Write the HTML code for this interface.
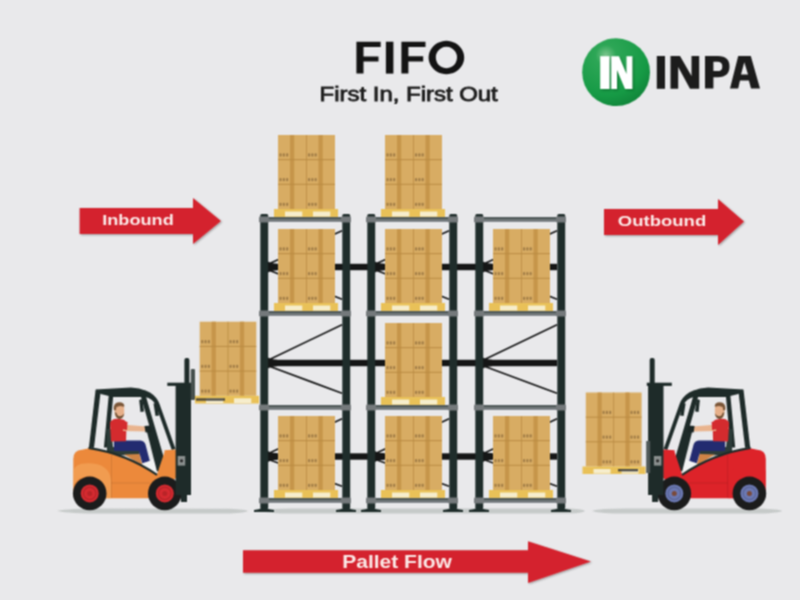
<!DOCTYPE html>
<html><head><meta charset="utf-8"><title>FIFO</title>
<style>html,body{margin:0;padding:0;background:#e9e9eb;width:800px;height:600px;overflow:hidden}svg{display:block;font-family:"Liberation Sans",sans-serif}</style>
</head><body><svg width="800" height="600" viewBox="0 0 800 600"><defs><filter id="gb" x="0" y="0" width="800" height="600" filterUnits="userSpaceOnUse" color-interpolation-filters="sRGB"><feConvolveMatrix order="3" kernelMatrix="1 2 1 2 4 2 1 2 1" divisor="16" edgeMode="duplicate"/></filter></defs><g filter="url(#gb)"><path d="M57,511 Q70,508.5 100,508.6 L230,508.8 Q246,509.5 248,511 Q246,512.8 230,513.4 L100,513.6 Q70,513.6 57,511 Z" fill="#c6cac9"/><path d="M262,511 Q270,508.6 290,508.6 L570,508.6 Q584,509.5 585,511 Q584,512.8 570,513.6 L290,513.6 Q270,513.6 262,511 Z" fill="#c6cac9"/><path d="M592,511 Q600,508.6 625,508.6 L760,508.6 Q780,509.5 782,511 Q780,512.8 760,513.6 L625,513.6 Q600,513.6 592,511 Z" fill="#c6cac9"/><rect x="268" y="263.8" width="289" height="6.4" fill="#151616"/><rect x="268" y="359.8" width="289" height="6.4" fill="#151616"/><rect x="268" y="453.3" width="289" height="6.4" fill="#151616"/><path d="M268,264.2 L342,230.7 M268,269.8 L342,299.3" stroke="#151616" stroke-width="1.7" fill="none"/><path d="M268,261.5 Q271,263.6 277,263.8 L277,270.2 Q271,270.4 268,272.5 Z" fill="#151616"/><path d="M268,360.2 L342,324.7 M268,365.8 L342,393.3" stroke="#151616" stroke-width="1.7" fill="none"/><path d="M268,357.5 Q271,359.6 277,359.8 L277,366.2 Q271,366.4 268,368.5 Z" fill="#151616"/><path d="M268,453.7 L342,418.7 M268,459.3 L342,486.3" stroke="#151616" stroke-width="1.7" fill="none"/><path d="M268,451.0 Q271,453.1 277,453.3 L277,459.7 Q271,459.9 268,462.0 Z" fill="#151616"/><path d="M375,264.2 L449,230.7 M375,269.8 L449,299.3" stroke="#151616" stroke-width="1.7" fill="none"/><path d="M375,261.5 Q378,263.6 384,263.8 L384,270.2 Q378,270.4 375,272.5 Z" fill="#151616"/><path d="M375,453.7 L449,418.7 M375,459.3 L449,486.3" stroke="#151616" stroke-width="1.7" fill="none"/><path d="M375,451.0 Q378,453.1 384,453.3 L384,459.7 Q378,459.9 375,462.0 Z" fill="#151616"/><path d="M483,264.2 L557,230.7 M483,269.8 L557,299.3" stroke="#151616" stroke-width="1.7" fill="none"/><path d="M483,261.5 Q486,263.6 492,263.8 L492,270.2 Q486,270.4 483,272.5 Z" fill="#151616"/><path d="M483,360.2 L557,324.7 M483,365.8 L557,393.3" stroke="#151616" stroke-width="1.7" fill="none"/><path d="M483,357.5 Q486,359.6 492,359.8 L492,366.2 Q486,366.4 483,368.5 Z" fill="#151616"/><path d="M483,453.7 L557,418.7 M483,459.3 L557,486.3" stroke="#151616" stroke-width="1.7" fill="none"/><path d="M483,451.0 Q486,453.1 492,453.3 L492,459.7 Q486,459.9 483,462.0 Z" fill="#151616"/><rect x="260.3" y="214" width="7.9" height="295" rx="1.5" fill="#1f2d2b"/><path d="M254,512 L254,510 Q264,509 264,505 Q264,509 274,510 L274,512 Z" fill="#1f2d2b"/><rect x="342.3" y="214" width="7.9" height="295" rx="1.5" fill="#1f2d2b"/><path d="M336,512 L336,510 Q346,509 346,505 Q346,509 356,510 L356,512 Z" fill="#1f2d2b"/><rect x="367.3" y="214" width="7.9" height="295" rx="1.5" fill="#1f2d2b"/><path d="M361,512 L361,510 Q371,509 371,505 Q371,509 381,510 L381,512 Z" fill="#1f2d2b"/><rect x="449.3" y="214" width="7.9" height="295" rx="1.5" fill="#1f2d2b"/><path d="M443,512 L443,510 Q453,509 453,505 Q453,509 463,510 L463,512 Z" fill="#1f2d2b"/><rect x="475.3" y="214" width="7.9" height="295" rx="1.5" fill="#1f2d2b"/><path d="M469,512 L469,510 Q479,509 479,505 Q479,509 489,510 L489,512 Z" fill="#1f2d2b"/><rect x="557.3" y="214" width="7.9" height="295" rx="1.5" fill="#1f2d2b"/><path d="M551,512 L551,510 Q561,509 561,505 Q561,509 571,510 L571,512 Z" fill="#1f2d2b"/><rect x="278" y="135.0" width="57" height="74" fill="#d8ac63"/><rect x="289.97" y="135.0" width="4.27" height="74" fill="#c6954a"/><rect x="318.47" y="135.0" width="4.27" height="74" fill="#c6954a"/><rect x="306.10" y="135.0" width="0.8" height="74" fill="#b98b43"/><rect x="278" y="159.17" width="57" height="1" fill="#b98b43"/><rect x="278" y="183.83" width="57" height="1" fill="#b98b43"/><rect x="279.50" y="153.37" width="2.1" height="3.2" rx="0.9" fill="#7d5e34" opacity="0.6"/><rect x="282.80" y="153.37" width="2.1" height="3.2" rx="0.9" fill="#7d5e34" opacity="0.6"/><rect x="286.10" y="153.37" width="2.1" height="3.2" rx="0.9" fill="#7d5e34" opacity="0.6"/><rect x="279.50" y="178.03" width="2.1" height="3.2" rx="0.9" fill="#7d5e34" opacity="0.6"/><rect x="282.80" y="178.03" width="2.1" height="3.2" rx="0.9" fill="#7d5e34" opacity="0.6"/><rect x="286.10" y="178.03" width="2.1" height="3.2" rx="0.9" fill="#7d5e34" opacity="0.6"/><rect x="279.50" y="202.70" width="2.1" height="3.2" rx="0.9" fill="#7d5e34" opacity="0.6"/><rect x="282.80" y="202.70" width="2.1" height="3.2" rx="0.9" fill="#7d5e34" opacity="0.6"/><rect x="286.10" y="202.70" width="2.1" height="3.2" rx="0.9" fill="#7d5e34" opacity="0.6"/><rect x="308.00" y="153.37" width="2.1" height="3.2" rx="0.9" fill="#7d5e34" opacity="0.6"/><rect x="311.30" y="153.37" width="2.1" height="3.2" rx="0.9" fill="#7d5e34" opacity="0.6"/><rect x="314.60" y="153.37" width="2.1" height="3.2" rx="0.9" fill="#7d5e34" opacity="0.6"/><rect x="308.00" y="178.03" width="2.1" height="3.2" rx="0.9" fill="#7d5e34" opacity="0.6"/><rect x="311.30" y="178.03" width="2.1" height="3.2" rx="0.9" fill="#7d5e34" opacity="0.6"/><rect x="314.60" y="178.03" width="2.1" height="3.2" rx="0.9" fill="#7d5e34" opacity="0.6"/><rect x="308.00" y="202.70" width="2.1" height="3.2" rx="0.9" fill="#7d5e34" opacity="0.6"/><rect x="311.30" y="202.70" width="2.1" height="3.2" rx="0.9" fill="#7d5e34" opacity="0.6"/><rect x="314.60" y="202.70" width="2.1" height="3.2" rx="0.9" fill="#7d5e34" opacity="0.6"/><rect x="274" y="209.0" width="64" height="8" fill="#e9c158"/><rect x="285" y="211.5" width="17.28" height="5" fill="#f6edcc"/><rect x="313" y="211.5" width="17.28" height="5" fill="#f6edcc"/><rect x="385" y="135.0" width="57" height="74" fill="#d8ac63"/><rect x="396.97" y="135.0" width="4.27" height="74" fill="#c6954a"/><rect x="425.47" y="135.0" width="4.27" height="74" fill="#c6954a"/><rect x="413.10" y="135.0" width="0.8" height="74" fill="#b98b43"/><rect x="385" y="159.17" width="57" height="1" fill="#b98b43"/><rect x="385" y="183.83" width="57" height="1" fill="#b98b43"/><rect x="386.50" y="153.37" width="2.1" height="3.2" rx="0.9" fill="#7d5e34" opacity="0.6"/><rect x="389.80" y="153.37" width="2.1" height="3.2" rx="0.9" fill="#7d5e34" opacity="0.6"/><rect x="393.10" y="153.37" width="2.1" height="3.2" rx="0.9" fill="#7d5e34" opacity="0.6"/><rect x="386.50" y="178.03" width="2.1" height="3.2" rx="0.9" fill="#7d5e34" opacity="0.6"/><rect x="389.80" y="178.03" width="2.1" height="3.2" rx="0.9" fill="#7d5e34" opacity="0.6"/><rect x="393.10" y="178.03" width="2.1" height="3.2" rx="0.9" fill="#7d5e34" opacity="0.6"/><rect x="386.50" y="202.70" width="2.1" height="3.2" rx="0.9" fill="#7d5e34" opacity="0.6"/><rect x="389.80" y="202.70" width="2.1" height="3.2" rx="0.9" fill="#7d5e34" opacity="0.6"/><rect x="393.10" y="202.70" width="2.1" height="3.2" rx="0.9" fill="#7d5e34" opacity="0.6"/><rect x="415.00" y="153.37" width="2.1" height="3.2" rx="0.9" fill="#7d5e34" opacity="0.6"/><rect x="418.30" y="153.37" width="2.1" height="3.2" rx="0.9" fill="#7d5e34" opacity="0.6"/><rect x="421.60" y="153.37" width="2.1" height="3.2" rx="0.9" fill="#7d5e34" opacity="0.6"/><rect x="415.00" y="178.03" width="2.1" height="3.2" rx="0.9" fill="#7d5e34" opacity="0.6"/><rect x="418.30" y="178.03" width="2.1" height="3.2" rx="0.9" fill="#7d5e34" opacity="0.6"/><rect x="421.60" y="178.03" width="2.1" height="3.2" rx="0.9" fill="#7d5e34" opacity="0.6"/><rect x="415.00" y="202.70" width="2.1" height="3.2" rx="0.9" fill="#7d5e34" opacity="0.6"/><rect x="418.30" y="202.70" width="2.1" height="3.2" rx="0.9" fill="#7d5e34" opacity="0.6"/><rect x="421.60" y="202.70" width="2.1" height="3.2" rx="0.9" fill="#7d5e34" opacity="0.6"/><rect x="381" y="209.0" width="64" height="8" fill="#e9c158"/><rect x="392" y="211.5" width="17.28" height="5" fill="#f6edcc"/><rect x="420" y="211.5" width="17.28" height="5" fill="#f6edcc"/><rect x="278" y="229.0" width="57" height="74" fill="#d8ac63"/><rect x="289.97" y="229.0" width="4.27" height="74" fill="#c6954a"/><rect x="318.47" y="229.0" width="4.27" height="74" fill="#c6954a"/><rect x="306.10" y="229.0" width="0.8" height="74" fill="#b98b43"/><rect x="278" y="253.17" width="57" height="1" fill="#b98b43"/><rect x="278" y="277.83" width="57" height="1" fill="#b98b43"/><rect x="279.50" y="247.37" width="2.1" height="3.2" rx="0.9" fill="#7d5e34" opacity="0.6"/><rect x="282.80" y="247.37" width="2.1" height="3.2" rx="0.9" fill="#7d5e34" opacity="0.6"/><rect x="286.10" y="247.37" width="2.1" height="3.2" rx="0.9" fill="#7d5e34" opacity="0.6"/><rect x="279.50" y="272.03" width="2.1" height="3.2" rx="0.9" fill="#7d5e34" opacity="0.6"/><rect x="282.80" y="272.03" width="2.1" height="3.2" rx="0.9" fill="#7d5e34" opacity="0.6"/><rect x="286.10" y="272.03" width="2.1" height="3.2" rx="0.9" fill="#7d5e34" opacity="0.6"/><rect x="279.50" y="296.70" width="2.1" height="3.2" rx="0.9" fill="#7d5e34" opacity="0.6"/><rect x="282.80" y="296.70" width="2.1" height="3.2" rx="0.9" fill="#7d5e34" opacity="0.6"/><rect x="286.10" y="296.70" width="2.1" height="3.2" rx="0.9" fill="#7d5e34" opacity="0.6"/><rect x="308.00" y="247.37" width="2.1" height="3.2" rx="0.9" fill="#7d5e34" opacity="0.6"/><rect x="311.30" y="247.37" width="2.1" height="3.2" rx="0.9" fill="#7d5e34" opacity="0.6"/><rect x="314.60" y="247.37" width="2.1" height="3.2" rx="0.9" fill="#7d5e34" opacity="0.6"/><rect x="308.00" y="272.03" width="2.1" height="3.2" rx="0.9" fill="#7d5e34" opacity="0.6"/><rect x="311.30" y="272.03" width="2.1" height="3.2" rx="0.9" fill="#7d5e34" opacity="0.6"/><rect x="314.60" y="272.03" width="2.1" height="3.2" rx="0.9" fill="#7d5e34" opacity="0.6"/><rect x="308.00" y="296.70" width="2.1" height="3.2" rx="0.9" fill="#7d5e34" opacity="0.6"/><rect x="311.30" y="296.70" width="2.1" height="3.2" rx="0.9" fill="#7d5e34" opacity="0.6"/><rect x="314.60" y="296.70" width="2.1" height="3.2" rx="0.9" fill="#7d5e34" opacity="0.6"/><rect x="274" y="303.0" width="64" height="8" fill="#e9c158"/><rect x="285" y="305.5" width="17.28" height="5" fill="#f6edcc"/><rect x="313" y="305.5" width="17.28" height="5" fill="#f6edcc"/><rect x="385" y="229.0" width="57" height="74" fill="#d8ac63"/><rect x="396.97" y="229.0" width="4.27" height="74" fill="#c6954a"/><rect x="425.47" y="229.0" width="4.27" height="74" fill="#c6954a"/><rect x="413.10" y="229.0" width="0.8" height="74" fill="#b98b43"/><rect x="385" y="253.17" width="57" height="1" fill="#b98b43"/><rect x="385" y="277.83" width="57" height="1" fill="#b98b43"/><rect x="386.50" y="247.37" width="2.1" height="3.2" rx="0.9" fill="#7d5e34" opacity="0.6"/><rect x="389.80" y="247.37" width="2.1" height="3.2" rx="0.9" fill="#7d5e34" opacity="0.6"/><rect x="393.10" y="247.37" width="2.1" height="3.2" rx="0.9" fill="#7d5e34" opacity="0.6"/><rect x="386.50" y="272.03" width="2.1" height="3.2" rx="0.9" fill="#7d5e34" opacity="0.6"/><rect x="389.80" y="272.03" width="2.1" height="3.2" rx="0.9" fill="#7d5e34" opacity="0.6"/><rect x="393.10" y="272.03" width="2.1" height="3.2" rx="0.9" fill="#7d5e34" opacity="0.6"/><rect x="386.50" y="296.70" width="2.1" height="3.2" rx="0.9" fill="#7d5e34" opacity="0.6"/><rect x="389.80" y="296.70" width="2.1" height="3.2" rx="0.9" fill="#7d5e34" opacity="0.6"/><rect x="393.10" y="296.70" width="2.1" height="3.2" rx="0.9" fill="#7d5e34" opacity="0.6"/><rect x="415.00" y="247.37" width="2.1" height="3.2" rx="0.9" fill="#7d5e34" opacity="0.6"/><rect x="418.30" y="247.37" width="2.1" height="3.2" rx="0.9" fill="#7d5e34" opacity="0.6"/><rect x="421.60" y="247.37" width="2.1" height="3.2" rx="0.9" fill="#7d5e34" opacity="0.6"/><rect x="415.00" y="272.03" width="2.1" height="3.2" rx="0.9" fill="#7d5e34" opacity="0.6"/><rect x="418.30" y="272.03" width="2.1" height="3.2" rx="0.9" fill="#7d5e34" opacity="0.6"/><rect x="421.60" y="272.03" width="2.1" height="3.2" rx="0.9" fill="#7d5e34" opacity="0.6"/><rect x="415.00" y="296.70" width="2.1" height="3.2" rx="0.9" fill="#7d5e34" opacity="0.6"/><rect x="418.30" y="296.70" width="2.1" height="3.2" rx="0.9" fill="#7d5e34" opacity="0.6"/><rect x="421.60" y="296.70" width="2.1" height="3.2" rx="0.9" fill="#7d5e34" opacity="0.6"/><rect x="381" y="303.0" width="64" height="8" fill="#e9c158"/><rect x="392" y="305.5" width="17.28" height="5" fill="#f6edcc"/><rect x="420" y="305.5" width="17.28" height="5" fill="#f6edcc"/><rect x="493" y="229.0" width="57" height="74" fill="#d8ac63"/><rect x="504.97" y="229.0" width="4.27" height="74" fill="#c6954a"/><rect x="533.47" y="229.0" width="4.27" height="74" fill="#c6954a"/><rect x="521.10" y="229.0" width="0.8" height="74" fill="#b98b43"/><rect x="493" y="253.17" width="57" height="1" fill="#b98b43"/><rect x="493" y="277.83" width="57" height="1" fill="#b98b43"/><rect x="494.50" y="247.37" width="2.1" height="3.2" rx="0.9" fill="#7d5e34" opacity="0.6"/><rect x="497.80" y="247.37" width="2.1" height="3.2" rx="0.9" fill="#7d5e34" opacity="0.6"/><rect x="501.10" y="247.37" width="2.1" height="3.2" rx="0.9" fill="#7d5e34" opacity="0.6"/><rect x="494.50" y="272.03" width="2.1" height="3.2" rx="0.9" fill="#7d5e34" opacity="0.6"/><rect x="497.80" y="272.03" width="2.1" height="3.2" rx="0.9" fill="#7d5e34" opacity="0.6"/><rect x="501.10" y="272.03" width="2.1" height="3.2" rx="0.9" fill="#7d5e34" opacity="0.6"/><rect x="494.50" y="296.70" width="2.1" height="3.2" rx="0.9" fill="#7d5e34" opacity="0.6"/><rect x="497.80" y="296.70" width="2.1" height="3.2" rx="0.9" fill="#7d5e34" opacity="0.6"/><rect x="501.10" y="296.70" width="2.1" height="3.2" rx="0.9" fill="#7d5e34" opacity="0.6"/><rect x="523.00" y="247.37" width="2.1" height="3.2" rx="0.9" fill="#7d5e34" opacity="0.6"/><rect x="526.30" y="247.37" width="2.1" height="3.2" rx="0.9" fill="#7d5e34" opacity="0.6"/><rect x="529.60" y="247.37" width="2.1" height="3.2" rx="0.9" fill="#7d5e34" opacity="0.6"/><rect x="523.00" y="272.03" width="2.1" height="3.2" rx="0.9" fill="#7d5e34" opacity="0.6"/><rect x="526.30" y="272.03" width="2.1" height="3.2" rx="0.9" fill="#7d5e34" opacity="0.6"/><rect x="529.60" y="272.03" width="2.1" height="3.2" rx="0.9" fill="#7d5e34" opacity="0.6"/><rect x="523.00" y="296.70" width="2.1" height="3.2" rx="0.9" fill="#7d5e34" opacity="0.6"/><rect x="526.30" y="296.70" width="2.1" height="3.2" rx="0.9" fill="#7d5e34" opacity="0.6"/><rect x="529.60" y="296.70" width="2.1" height="3.2" rx="0.9" fill="#7d5e34" opacity="0.6"/><rect x="489" y="303.0" width="64" height="8" fill="#e9c158"/><rect x="500" y="305.5" width="17.28" height="5" fill="#f6edcc"/><rect x="528" y="305.5" width="17.28" height="5" fill="#f6edcc"/><rect x="385" y="323.0" width="57" height="74" fill="#d8ac63"/><rect x="396.97" y="323.0" width="4.27" height="74" fill="#c6954a"/><rect x="425.47" y="323.0" width="4.27" height="74" fill="#c6954a"/><rect x="413.10" y="323.0" width="0.8" height="74" fill="#b98b43"/><rect x="385" y="347.17" width="57" height="1" fill="#b98b43"/><rect x="385" y="371.83" width="57" height="1" fill="#b98b43"/><rect x="386.50" y="341.37" width="2.1" height="3.2" rx="0.9" fill="#7d5e34" opacity="0.6"/><rect x="389.80" y="341.37" width="2.1" height="3.2" rx="0.9" fill="#7d5e34" opacity="0.6"/><rect x="393.10" y="341.37" width="2.1" height="3.2" rx="0.9" fill="#7d5e34" opacity="0.6"/><rect x="386.50" y="366.03" width="2.1" height="3.2" rx="0.9" fill="#7d5e34" opacity="0.6"/><rect x="389.80" y="366.03" width="2.1" height="3.2" rx="0.9" fill="#7d5e34" opacity="0.6"/><rect x="393.10" y="366.03" width="2.1" height="3.2" rx="0.9" fill="#7d5e34" opacity="0.6"/><rect x="386.50" y="390.70" width="2.1" height="3.2" rx="0.9" fill="#7d5e34" opacity="0.6"/><rect x="389.80" y="390.70" width="2.1" height="3.2" rx="0.9" fill="#7d5e34" opacity="0.6"/><rect x="393.10" y="390.70" width="2.1" height="3.2" rx="0.9" fill="#7d5e34" opacity="0.6"/><rect x="415.00" y="341.37" width="2.1" height="3.2" rx="0.9" fill="#7d5e34" opacity="0.6"/><rect x="418.30" y="341.37" width="2.1" height="3.2" rx="0.9" fill="#7d5e34" opacity="0.6"/><rect x="421.60" y="341.37" width="2.1" height="3.2" rx="0.9" fill="#7d5e34" opacity="0.6"/><rect x="415.00" y="366.03" width="2.1" height="3.2" rx="0.9" fill="#7d5e34" opacity="0.6"/><rect x="418.30" y="366.03" width="2.1" height="3.2" rx="0.9" fill="#7d5e34" opacity="0.6"/><rect x="421.60" y="366.03" width="2.1" height="3.2" rx="0.9" fill="#7d5e34" opacity="0.6"/><rect x="415.00" y="390.70" width="2.1" height="3.2" rx="0.9" fill="#7d5e34" opacity="0.6"/><rect x="418.30" y="390.70" width="2.1" height="3.2" rx="0.9" fill="#7d5e34" opacity="0.6"/><rect x="421.60" y="390.70" width="2.1" height="3.2" rx="0.9" fill="#7d5e34" opacity="0.6"/><rect x="381" y="397.0" width="64" height="8" fill="#e9c158"/><rect x="392" y="399.5" width="17.28" height="5" fill="#f6edcc"/><rect x="420" y="399.5" width="17.28" height="5" fill="#f6edcc"/><rect x="278" y="416.0" width="57" height="74" fill="#d8ac63"/><rect x="289.97" y="416.0" width="4.27" height="74" fill="#c6954a"/><rect x="318.47" y="416.0" width="4.27" height="74" fill="#c6954a"/><rect x="306.10" y="416.0" width="0.8" height="74" fill="#b98b43"/><rect x="278" y="440.17" width="57" height="1" fill="#b98b43"/><rect x="278" y="464.83" width="57" height="1" fill="#b98b43"/><rect x="279.50" y="434.37" width="2.1" height="3.2" rx="0.9" fill="#7d5e34" opacity="0.6"/><rect x="282.80" y="434.37" width="2.1" height="3.2" rx="0.9" fill="#7d5e34" opacity="0.6"/><rect x="286.10" y="434.37" width="2.1" height="3.2" rx="0.9" fill="#7d5e34" opacity="0.6"/><rect x="279.50" y="459.03" width="2.1" height="3.2" rx="0.9" fill="#7d5e34" opacity="0.6"/><rect x="282.80" y="459.03" width="2.1" height="3.2" rx="0.9" fill="#7d5e34" opacity="0.6"/><rect x="286.10" y="459.03" width="2.1" height="3.2" rx="0.9" fill="#7d5e34" opacity="0.6"/><rect x="279.50" y="483.70" width="2.1" height="3.2" rx="0.9" fill="#7d5e34" opacity="0.6"/><rect x="282.80" y="483.70" width="2.1" height="3.2" rx="0.9" fill="#7d5e34" opacity="0.6"/><rect x="286.10" y="483.70" width="2.1" height="3.2" rx="0.9" fill="#7d5e34" opacity="0.6"/><rect x="308.00" y="434.37" width="2.1" height="3.2" rx="0.9" fill="#7d5e34" opacity="0.6"/><rect x="311.30" y="434.37" width="2.1" height="3.2" rx="0.9" fill="#7d5e34" opacity="0.6"/><rect x="314.60" y="434.37" width="2.1" height="3.2" rx="0.9" fill="#7d5e34" opacity="0.6"/><rect x="308.00" y="459.03" width="2.1" height="3.2" rx="0.9" fill="#7d5e34" opacity="0.6"/><rect x="311.30" y="459.03" width="2.1" height="3.2" rx="0.9" fill="#7d5e34" opacity="0.6"/><rect x="314.60" y="459.03" width="2.1" height="3.2" rx="0.9" fill="#7d5e34" opacity="0.6"/><rect x="308.00" y="483.70" width="2.1" height="3.2" rx="0.9" fill="#7d5e34" opacity="0.6"/><rect x="311.30" y="483.70" width="2.1" height="3.2" rx="0.9" fill="#7d5e34" opacity="0.6"/><rect x="314.60" y="483.70" width="2.1" height="3.2" rx="0.9" fill="#7d5e34" opacity="0.6"/><rect x="274" y="490.0" width="64" height="8" fill="#e9c158"/><rect x="285" y="492.5" width="17.28" height="5" fill="#f6edcc"/><rect x="313" y="492.5" width="17.28" height="5" fill="#f6edcc"/><rect x="385" y="416.0" width="57" height="74" fill="#d8ac63"/><rect x="396.97" y="416.0" width="4.27" height="74" fill="#c6954a"/><rect x="425.47" y="416.0" width="4.27" height="74" fill="#c6954a"/><rect x="413.10" y="416.0" width="0.8" height="74" fill="#b98b43"/><rect x="385" y="440.17" width="57" height="1" fill="#b98b43"/><rect x="385" y="464.83" width="57" height="1" fill="#b98b43"/><rect x="386.50" y="434.37" width="2.1" height="3.2" rx="0.9" fill="#7d5e34" opacity="0.6"/><rect x="389.80" y="434.37" width="2.1" height="3.2" rx="0.9" fill="#7d5e34" opacity="0.6"/><rect x="393.10" y="434.37" width="2.1" height="3.2" rx="0.9" fill="#7d5e34" opacity="0.6"/><rect x="386.50" y="459.03" width="2.1" height="3.2" rx="0.9" fill="#7d5e34" opacity="0.6"/><rect x="389.80" y="459.03" width="2.1" height="3.2" rx="0.9" fill="#7d5e34" opacity="0.6"/><rect x="393.10" y="459.03" width="2.1" height="3.2" rx="0.9" fill="#7d5e34" opacity="0.6"/><rect x="386.50" y="483.70" width="2.1" height="3.2" rx="0.9" fill="#7d5e34" opacity="0.6"/><rect x="389.80" y="483.70" width="2.1" height="3.2" rx="0.9" fill="#7d5e34" opacity="0.6"/><rect x="393.10" y="483.70" width="2.1" height="3.2" rx="0.9" fill="#7d5e34" opacity="0.6"/><rect x="415.00" y="434.37" width="2.1" height="3.2" rx="0.9" fill="#7d5e34" opacity="0.6"/><rect x="418.30" y="434.37" width="2.1" height="3.2" rx="0.9" fill="#7d5e34" opacity="0.6"/><rect x="421.60" y="434.37" width="2.1" height="3.2" rx="0.9" fill="#7d5e34" opacity="0.6"/><rect x="415.00" y="459.03" width="2.1" height="3.2" rx="0.9" fill="#7d5e34" opacity="0.6"/><rect x="418.30" y="459.03" width="2.1" height="3.2" rx="0.9" fill="#7d5e34" opacity="0.6"/><rect x="421.60" y="459.03" width="2.1" height="3.2" rx="0.9" fill="#7d5e34" opacity="0.6"/><rect x="415.00" y="483.70" width="2.1" height="3.2" rx="0.9" fill="#7d5e34" opacity="0.6"/><rect x="418.30" y="483.70" width="2.1" height="3.2" rx="0.9" fill="#7d5e34" opacity="0.6"/><rect x="421.60" y="483.70" width="2.1" height="3.2" rx="0.9" fill="#7d5e34" opacity="0.6"/><rect x="381" y="490.0" width="64" height="8" fill="#e9c158"/><rect x="392" y="492.5" width="17.28" height="5" fill="#f6edcc"/><rect x="420" y="492.5" width="17.28" height="5" fill="#f6edcc"/><rect x="493" y="416.0" width="57" height="74" fill="#d8ac63"/><rect x="504.97" y="416.0" width="4.27" height="74" fill="#c6954a"/><rect x="533.47" y="416.0" width="4.27" height="74" fill="#c6954a"/><rect x="521.10" y="416.0" width="0.8" height="74" fill="#b98b43"/><rect x="493" y="440.17" width="57" height="1" fill="#b98b43"/><rect x="493" y="464.83" width="57" height="1" fill="#b98b43"/><rect x="494.50" y="434.37" width="2.1" height="3.2" rx="0.9" fill="#7d5e34" opacity="0.6"/><rect x="497.80" y="434.37" width="2.1" height="3.2" rx="0.9" fill="#7d5e34" opacity="0.6"/><rect x="501.10" y="434.37" width="2.1" height="3.2" rx="0.9" fill="#7d5e34" opacity="0.6"/><rect x="494.50" y="459.03" width="2.1" height="3.2" rx="0.9" fill="#7d5e34" opacity="0.6"/><rect x="497.80" y="459.03" width="2.1" height="3.2" rx="0.9" fill="#7d5e34" opacity="0.6"/><rect x="501.10" y="459.03" width="2.1" height="3.2" rx="0.9" fill="#7d5e34" opacity="0.6"/><rect x="494.50" y="483.70" width="2.1" height="3.2" rx="0.9" fill="#7d5e34" opacity="0.6"/><rect x="497.80" y="483.70" width="2.1" height="3.2" rx="0.9" fill="#7d5e34" opacity="0.6"/><rect x="501.10" y="483.70" width="2.1" height="3.2" rx="0.9" fill="#7d5e34" opacity="0.6"/><rect x="523.00" y="434.37" width="2.1" height="3.2" rx="0.9" fill="#7d5e34" opacity="0.6"/><rect x="526.30" y="434.37" width="2.1" height="3.2" rx="0.9" fill="#7d5e34" opacity="0.6"/><rect x="529.60" y="434.37" width="2.1" height="3.2" rx="0.9" fill="#7d5e34" opacity="0.6"/><rect x="523.00" y="459.03" width="2.1" height="3.2" rx="0.9" fill="#7d5e34" opacity="0.6"/><rect x="526.30" y="459.03" width="2.1" height="3.2" rx="0.9" fill="#7d5e34" opacity="0.6"/><rect x="529.60" y="459.03" width="2.1" height="3.2" rx="0.9" fill="#7d5e34" opacity="0.6"/><rect x="523.00" y="483.70" width="2.1" height="3.2" rx="0.9" fill="#7d5e34" opacity="0.6"/><rect x="526.30" y="483.70" width="2.1" height="3.2" rx="0.9" fill="#7d5e34" opacity="0.6"/><rect x="529.60" y="483.70" width="2.1" height="3.2" rx="0.9" fill="#7d5e34" opacity="0.6"/><rect x="489" y="490.0" width="64" height="8" fill="#e9c158"/><rect x="500" y="492.5" width="17.28" height="5" fill="#f6edcc"/><rect x="528" y="492.5" width="17.28" height="5" fill="#f6edcc"/><rect x="260" y="217.2" width="90" height="4.6" fill="#70777a"/><rect x="260" y="217.2" width="90" height="1.8" fill="#4b5554"/><rect x="259" y="216.5" width="10" height="6.0" rx="1.2" fill="#74797b"/><rect x="341" y="216.5" width="10" height="6.0" rx="1.2" fill="#74797b"/><rect x="367" y="217.2" width="90" height="4.6" fill="#70777a"/><rect x="367" y="217.2" width="90" height="1.8" fill="#4b5554"/><rect x="366" y="216.5" width="10" height="6.0" rx="1.2" fill="#74797b"/><rect x="448" y="216.5" width="10" height="6.0" rx="1.2" fill="#74797b"/><rect x="475" y="217.2" width="90" height="4.6" fill="#70777a"/><rect x="475" y="217.2" width="90" height="1.8" fill="#4b5554"/><rect x="474" y="216.5" width="10" height="6.0" rx="1.2" fill="#74797b"/><rect x="556" y="216.5" width="10" height="6.0" rx="1.2" fill="#74797b"/><rect x="260" y="311.2" width="90" height="4.6" fill="#70777a"/><rect x="260" y="311.2" width="90" height="1.8" fill="#4b5554"/><rect x="259" y="310.5" width="10" height="6.0" rx="1.2" fill="#74797b"/><rect x="341" y="310.5" width="10" height="6.0" rx="1.2" fill="#74797b"/><rect x="367" y="311.2" width="90" height="4.6" fill="#70777a"/><rect x="367" y="311.2" width="90" height="1.8" fill="#4b5554"/><rect x="366" y="310.5" width="10" height="6.0" rx="1.2" fill="#74797b"/><rect x="448" y="310.5" width="10" height="6.0" rx="1.2" fill="#74797b"/><rect x="475" y="311.2" width="90" height="4.6" fill="#70777a"/><rect x="475" y="311.2" width="90" height="1.8" fill="#4b5554"/><rect x="474" y="310.5" width="10" height="6.0" rx="1.2" fill="#74797b"/><rect x="556" y="310.5" width="10" height="6.0" rx="1.2" fill="#74797b"/><rect x="260" y="405.2" width="90" height="4.6" fill="#70777a"/><rect x="260" y="405.2" width="90" height="1.8" fill="#4b5554"/><rect x="259" y="404.5" width="10" height="6.0" rx="1.2" fill="#74797b"/><rect x="341" y="404.5" width="10" height="6.0" rx="1.2" fill="#74797b"/><rect x="367" y="405.2" width="90" height="4.6" fill="#70777a"/><rect x="367" y="405.2" width="90" height="1.8" fill="#4b5554"/><rect x="366" y="404.5" width="10" height="6.0" rx="1.2" fill="#74797b"/><rect x="448" y="404.5" width="10" height="6.0" rx="1.2" fill="#74797b"/><rect x="475" y="405.2" width="90" height="4.6" fill="#70777a"/><rect x="475" y="405.2" width="90" height="1.8" fill="#4b5554"/><rect x="474" y="404.5" width="10" height="6.0" rx="1.2" fill="#74797b"/><rect x="556" y="404.5" width="10" height="6.0" rx="1.2" fill="#74797b"/><rect x="260" y="498.2" width="90" height="4.6" fill="#70777a"/><rect x="260" y="498.2" width="90" height="1.8" fill="#4b5554"/><rect x="259" y="497.5" width="10" height="6.0" rx="1.2" fill="#74797b"/><rect x="341" y="497.5" width="10" height="6.0" rx="1.2" fill="#74797b"/><rect x="367" y="498.2" width="90" height="4.6" fill="#70777a"/><rect x="367" y="498.2" width="90" height="1.8" fill="#4b5554"/><rect x="366" y="497.5" width="10" height="6.0" rx="1.2" fill="#74797b"/><rect x="448" y="497.5" width="10" height="6.0" rx="1.2" fill="#74797b"/><rect x="475" y="498.2" width="90" height="4.6" fill="#70777a"/><rect x="475" y="498.2" width="90" height="1.8" fill="#4b5554"/><rect x="474" y="497.5" width="10" height="6.0" rx="1.2" fill="#74797b"/><rect x="556" y="497.5" width="10" height="6.0" rx="1.2" fill="#74797b"/><g transform=""><path d="M95.6,389.8 L100.8,390.2 L94,447.8 L88.9,447.8 Z" fill="#1e2b29"/><path d="M108.9,394 L113.4,394 L108.4,447.5 L103.9,447.5 Z" fill="#1e2b29"/><path d="M95.6,389.6 L131,387.5 Q141,387.8 150,392.5 Q157,397 159.5,404 L175.5,449 L171.8,450 L156,405.5 Q152.5,398 145,397 L113,397 L100.8,394 Z" fill="#1e2b29"/><path d="M140.5,395 L145.5,395 L166,465 L161,467 Z" fill="#1e2b29"/><path d="M139.2,400 L142.5,399 L144,411.5 L140.5,412 Z" fill="#1e2b29"/><path d="M153.5,403.5 L157,403 L159,415.5 L155.5,416 Z" fill="#1e2b29"/><path d="M106.8,429 L111.5,429 L113,447 L140,448 L139.5,455.5 L107,455 Z" fill="#2c3c39"/><path d="M124,454.5 L139.5,454 L142.5,465.5 Z" fill="#cf8446"/><path d="M114,440.5 L140.5,440.5 Q144.5,441 145.5,444.5 L149.8,461 L142.3,463.3 L138.8,451 L114,451 Z" fill="#232b70"/><path d="M141.5,464 L149.8,461 L153.5,459 L156.5,472.8 Z" fill="#f2f3f3"/><path d="M110,423 Q111,419 117,418.8 L123,419.5 Q126.5,420.5 126.5,425 L126,441.2 L111,441.5 Z" fill="#d42b2e"/><path d="M122.5,424.5 L146,426.5 L146,431.5 L123,431 Z" fill="#e9b48e"/><path d="M121.5,420.5 L127.5,422 L127,430 L120.5,429 Z" fill="#d42b2e"/><path d="M114.3,408 Q114.3,404 119.2,404 Q124.2,404 124.2,408.5 L124.2,414 Q123,418.8 119.5,418.8 Q115.5,418.4 114.8,414.5 Z" fill="#e6b08a"/><path d="M113.8,410 Q113,402.3 119.2,402.3 Q124.8,402.4 124.3,406.8 L120,406 L116.5,407 L115.8,410.5 Z" fill="#7a5638"/><path d="M114.8,412 L116.5,413 Q117.5,416.5 120,416.3 Q122.5,416 124.2,413.5 Q123.3,418.9 119.5,419 Q115.5,418.6 114.8,412 Z" fill="#6e4f34"/><path d="M146.5,430 L153,428.5 L165,466 L164,469.5 L157,471.5 Z" fill="#1e2b29"/><path d="M144.5,426 L150.5,425.5 L151.5,432 L145.5,432.5 Z" fill="#1b2624"/><path d="M73.3,496 L73.3,459 Q73.3,450 82,449.7 L89,448.3 Q126,453.5 157,474.5 L164.5,452 L164.5,450.2 L176,449.5 L176,478 L149,498.3 L76,498.3 Z" fill="#ec893b"/><path d="M73.3,472 Q74,463.5 88,463.3 Q109,463.3 111,480 L111,498.3 L103,498.3 Q106,477 89,476.3 Q77,476.6 73.3,486 Z" fill="#f3a45a" opacity="0.7"/><path d="M111.5,455 L111.5,498 M111.5,483 L150,483" stroke="#000" stroke-opacity="0.1" stroke-width="1"/><path d="M88.5,447.8 Q126,453.5 157,474.8" stroke="#1e2b29" stroke-width="2.2" fill="none"/><circle cx="89.7" cy="493.4" r="16.8" fill="#1b1c1c"/><circle cx="89.7" cy="493.4" r="9" fill="#d52a30"/><circle cx="89.7" cy="493.4" r="6.2" fill="none" stroke="#000" stroke-opacity="0.15" stroke-width="1.2"/><circle cx="89.7" cy="493.4" r="2.5" fill="#b92428"/><circle cx="164.8" cy="493.4" r="16.8" fill="#1b1c1c"/><circle cx="164.8" cy="493.4" r="9" fill="#d52a30"/><circle cx="164.8" cy="493.4" r="6.2" fill="none" stroke="#000" stroke-opacity="0.15" stroke-width="1.2"/><circle cx="164.8" cy="493.4" r="2.5" fill="#b92428"/><rect x="175.6" y="384" width="15.4" height="111" fill="#1e2b29"/><rect x="181" y="494" width="6" height="8" fill="#1e2b29"/><rect x="184.4" y="358" width="5" height="30" rx="2" fill="#1e2b29"/><rect x="167.3" y="382.7" width="25" height="3.2" fill="#1e2b29"/><rect x="177.7" y="456" width="7.5" height="9.6" fill="#8a8f8e"/><circle cx="181.5" cy="460.8" r="1.6" fill="#2a2a2a"/></g><g transform="translate(839.1,0) scale(-1,1)"><path d="M95.6,389.8 L100.8,390.2 L94,447.8 L88.9,447.8 Z" fill="#1e2b29"/><path d="M108.9,394 L113.4,394 L108.4,447.5 L103.9,447.5 Z" fill="#1e2b29"/><path d="M95.6,389.6 L131,387.5 Q141,387.8 150,392.5 Q157,397 159.5,404 L175.5,449 L171.8,450 L156,405.5 Q152.5,398 145,397 L113,397 L100.8,394 Z" fill="#1e2b29"/><path d="M140.5,395 L145.5,395 L166,465 L161,467 Z" fill="#1e2b29"/><path d="M139.2,400 L142.5,399 L144,411.5 L140.5,412 Z" fill="#1e2b29"/><path d="M153.5,403.5 L157,403 L159,415.5 L155.5,416 Z" fill="#1e2b29"/><path d="M106.8,429 L111.5,429 L113,447 L140,448 L139.5,455.5 L107,455 Z" fill="#2c3c39"/><path d="M124,454.5 L139.5,454 L142.5,465.5 Z" fill="#cf8446"/><path d="M114,440.5 L140.5,440.5 Q144.5,441 145.5,444.5 L149.8,461 L142.3,463.3 L138.8,451 L114,451 Z" fill="#232b70"/><path d="M141.5,464 L149.8,461 L153.5,459 L156.5,472.8 Z" fill="#f2f3f3"/><path d="M110,423 Q111,419 117,418.8 L123,419.5 Q126.5,420.5 126.5,425 L126,441.2 L111,441.5 Z" fill="#d42b2e"/><path d="M122.5,424.5 L146,426.5 L146,431.5 L123,431 Z" fill="#e9b48e"/><path d="M121.5,420.5 L127.5,422 L127,430 L120.5,429 Z" fill="#d42b2e"/><path d="M114.3,408 Q114.3,404 119.2,404 Q124.2,404 124.2,408.5 L124.2,414 Q123,418.8 119.5,418.8 Q115.5,418.4 114.8,414.5 Z" fill="#e6b08a"/><path d="M113.8,410 Q113,402.3 119.2,402.3 Q124.8,402.4 124.3,406.8 L120,406 L116.5,407 L115.8,410.5 Z" fill="#7a5638"/><path d="M114.8,412 L116.5,413 Q117.5,416.5 120,416.3 Q122.5,416 124.2,413.5 Q123.3,418.9 119.5,419 Q115.5,418.6 114.8,412 Z" fill="#6e4f34"/><path d="M146.5,430 L153,428.5 L165,466 L164,469.5 L157,471.5 Z" fill="#1e2b29"/><path d="M144.5,426 L150.5,425.5 L151.5,432 L145.5,432.5 Z" fill="#1b2624"/><path d="M73.3,496 L73.3,459 Q73.3,450 82,449.7 L89,448.3 Q126,453.5 157,474.5 L164.5,452 L164.5,450.2 L176,449.5 L176,478 L149,498.3 L76,498.3 Z" fill="#dd2329"/><path d="M73.3,472 Q74,463.5 88,463.3 Q109,463.3 111,480 L111,498.3 L103,498.3 Q106,477 89,476.3 Q77,476.6 73.3,486 Z" fill="#dd2329" opacity="0.7"/><path d="M111.5,455 L111.5,498 M111.5,483 L150,483" stroke="#000" stroke-opacity="0.1" stroke-width="1"/><path d="M88.5,447.8 Q126,453.5 157,474.8" stroke="#1e2b29" stroke-width="2.2" fill="none"/><circle cx="89.7" cy="493.4" r="16.8" fill="#1b1c1c"/><circle cx="89.7" cy="493.4" r="9" fill="#6b78b2"/><circle cx="89.7" cy="493.4" r="6.2" fill="none" stroke="#000" stroke-opacity="0.15" stroke-width="1.2"/><circle cx="89.7" cy="493.4" r="2.5" fill="#7a4a3a"/><circle cx="164.8" cy="493.4" r="16.8" fill="#1b1c1c"/><circle cx="164.8" cy="493.4" r="9" fill="#6b78b2"/><circle cx="164.8" cy="493.4" r="6.2" fill="none" stroke="#000" stroke-opacity="0.15" stroke-width="1.2"/><circle cx="164.8" cy="493.4" r="2.5" fill="#7a4a3a"/><rect x="175.6" y="384" width="15.4" height="111" fill="#1e2b29"/><rect x="181" y="494" width="6" height="8" fill="#1e2b29"/><rect x="184.4" y="358" width="5" height="30" rx="2" fill="#1e2b29"/><rect x="167.3" y="382.7" width="25" height="3.2" fill="#1e2b29"/><rect x="177.7" y="456" width="7.5" height="9.6" fill="#8a8f8e"/><circle cx="181.5" cy="460.8" r="1.6" fill="#2a2a2a"/></g><rect x="190.8" y="369" width="4.2" height="31" rx="1" fill="#46504e"/><rect x="199.7" y="321.7" width="56.6" height="74.1" fill="#d8ac63"/><rect x="211.59" y="321.7" width="4.25" height="74.1" fill="#c6954a"/><rect x="239.89" y="321.7" width="4.25" height="74.1" fill="#c6954a"/><rect x="227.60" y="321.7" width="0.8" height="74.1" fill="#b98b43"/><rect x="199.7" y="345.90" width="56.6" height="1" fill="#b98b43"/><rect x="199.7" y="370.60" width="56.6" height="1" fill="#b98b43"/><rect x="201.20" y="340.10" width="2.1" height="3.2" rx="0.9" fill="#7d5e34" opacity="0.6"/><rect x="204.50" y="340.10" width="2.1" height="3.2" rx="0.9" fill="#7d5e34" opacity="0.6"/><rect x="207.80" y="340.10" width="2.1" height="3.2" rx="0.9" fill="#7d5e34" opacity="0.6"/><rect x="201.20" y="364.80" width="2.1" height="3.2" rx="0.9" fill="#7d5e34" opacity="0.6"/><rect x="204.50" y="364.80" width="2.1" height="3.2" rx="0.9" fill="#7d5e34" opacity="0.6"/><rect x="207.80" y="364.80" width="2.1" height="3.2" rx="0.9" fill="#7d5e34" opacity="0.6"/><rect x="201.20" y="389.50" width="2.1" height="3.2" rx="0.9" fill="#7d5e34" opacity="0.6"/><rect x="204.50" y="389.50" width="2.1" height="3.2" rx="0.9" fill="#7d5e34" opacity="0.6"/><rect x="207.80" y="389.50" width="2.1" height="3.2" rx="0.9" fill="#7d5e34" opacity="0.6"/><rect x="229.50" y="340.10" width="2.1" height="3.2" rx="0.9" fill="#7d5e34" opacity="0.6"/><rect x="232.80" y="340.10" width="2.1" height="3.2" rx="0.9" fill="#7d5e34" opacity="0.6"/><rect x="236.10" y="340.10" width="2.1" height="3.2" rx="0.9" fill="#7d5e34" opacity="0.6"/><rect x="229.50" y="364.80" width="2.1" height="3.2" rx="0.9" fill="#7d5e34" opacity="0.6"/><rect x="232.80" y="364.80" width="2.1" height="3.2" rx="0.9" fill="#7d5e34" opacity="0.6"/><rect x="236.10" y="364.80" width="2.1" height="3.2" rx="0.9" fill="#7d5e34" opacity="0.6"/><rect x="229.50" y="389.50" width="2.1" height="3.2" rx="0.9" fill="#7d5e34" opacity="0.6"/><rect x="232.80" y="389.50" width="2.1" height="3.2" rx="0.9" fill="#7d5e34" opacity="0.6"/><rect x="236.10" y="389.50" width="2.1" height="3.2" rx="0.9" fill="#7d5e34" opacity="0.6"/><rect x="195" y="395.8" width="64" height="7.7" fill="#e9c158"/><rect x="206" y="398.3" width="17.28" height="4.7" fill="#f6edcc"/><rect x="234" y="398.3" width="17.28" height="4.7" fill="#f6edcc"/><rect x="196" y="398.3" width="29" height="2.4" fill="#333" opacity="0.85"/><rect x="646.2" y="441" width="4" height="32" fill="#4f5857"/><rect x="585.8" y="392.5" width="55.8" height="74" fill="#d8ac63"/><rect x="597.52" y="392.5" width="4.18" height="74" fill="#c6954a"/><rect x="625.42" y="392.5" width="4.18" height="74" fill="#c6954a"/><rect x="613.30" y="392.5" width="0.8" height="74" fill="#b98b43"/><rect x="585.8" y="416.67" width="55.8" height="1" fill="#b98b43"/><rect x="585.8" y="441.33" width="55.8" height="1" fill="#b98b43"/><rect x="602.54" y="410.87" width="2.1" height="3.2" rx="0.9" fill="#7d5e34" opacity="0.6"/><rect x="605.84" y="410.87" width="2.1" height="3.2" rx="0.9" fill="#7d5e34" opacity="0.6"/><rect x="609.14" y="410.87" width="2.1" height="3.2" rx="0.9" fill="#7d5e34" opacity="0.6"/><rect x="602.54" y="435.53" width="2.1" height="3.2" rx="0.9" fill="#7d5e34" opacity="0.6"/><rect x="605.84" y="435.53" width="2.1" height="3.2" rx="0.9" fill="#7d5e34" opacity="0.6"/><rect x="609.14" y="435.53" width="2.1" height="3.2" rx="0.9" fill="#7d5e34" opacity="0.6"/><rect x="602.54" y="460.20" width="2.1" height="3.2" rx="0.9" fill="#7d5e34" opacity="0.6"/><rect x="605.84" y="460.20" width="2.1" height="3.2" rx="0.9" fill="#7d5e34" opacity="0.6"/><rect x="609.14" y="460.20" width="2.1" height="3.2" rx="0.9" fill="#7d5e34" opacity="0.6"/><rect x="630.44" y="410.87" width="2.1" height="3.2" rx="0.9" fill="#7d5e34" opacity="0.6"/><rect x="633.74" y="410.87" width="2.1" height="3.2" rx="0.9" fill="#7d5e34" opacity="0.6"/><rect x="637.04" y="410.87" width="2.1" height="3.2" rx="0.9" fill="#7d5e34" opacity="0.6"/><rect x="630.44" y="435.53" width="2.1" height="3.2" rx="0.9" fill="#7d5e34" opacity="0.6"/><rect x="633.74" y="435.53" width="2.1" height="3.2" rx="0.9" fill="#7d5e34" opacity="0.6"/><rect x="637.04" y="435.53" width="2.1" height="3.2" rx="0.9" fill="#7d5e34" opacity="0.6"/><rect x="630.44" y="460.20" width="2.1" height="3.2" rx="0.9" fill="#7d5e34" opacity="0.6"/><rect x="633.74" y="460.20" width="2.1" height="3.2" rx="0.9" fill="#7d5e34" opacity="0.6"/><rect x="637.04" y="460.20" width="2.1" height="3.2" rx="0.9" fill="#7d5e34" opacity="0.6"/><rect x="582.5" y="466.5" width="63" height="7.5" fill="#e9c158"/><rect x="593.5" y="469.0" width="17.01" height="4.5" fill="#f6edcc"/><rect x="621.5" y="469.0" width="17.01" height="4.5" fill="#f6edcc"/><rect x="618" y="469" width="20" height="2.4" fill="#333" opacity="0.85"/><path d="M79.6,208 L193,208 L193,198 L221,221 L193,244 L193,234 L79.6,234 Z" fill="#d4232d" filter="url(#sh)"/><path d="M604,209 L718,209 L718,199 L744,221.6 L718,245 L718,235 L604,235 Z" fill="#d4232d" filter="url(#sh)"/><path d="M243,550.3 L528,550.3 L528,541.3 L591,561.6 L528,582.9 L528,572.7 L243,572.7 Z" fill="#d4232d" filter="url(#sh)"/><text x="102.2" y="225.2" font-family="Liberation Sans" font-weight="bold" font-size="15.2" fill="#fbeae8" textLength="71.6" lengthAdjust="spacingAndGlyphs">Inbound</text><text x="617.8" y="226" font-family="Liberation Sans" font-weight="bold" font-size="15.2" fill="#fbeae8" textLength="88.4" lengthAdjust="spacingAndGlyphs">Outbound</text><text x="342.2" y="568.3" font-family="Liberation Sans" font-weight="bold" font-size="18.8" fill="#fbeae8" textLength="109.8" lengthAdjust="spacingAndGlyphs">Pallet Flow</text><path fill="#141414" d="M356.4,41.7 H380.7 V47.1 H363.5 V56.6 H378.5 V61.6 H363.5 V73.6 H356.4 Z"/><rect x="385.9" y="41.7" width="7.5" height="31.9" fill="#141414"/><path fill="#141414" d="M401.4,41.7 H425.5 V47.1 H408.4 V56.2 H423.2 V61.6 H408.4 V73.4 H401.4 Z"/><path fill="#141414" fill-rule="evenodd" d="M446.4,40.85 A17.8,16.65 0 1 1 446.39,40.85 Z M446.4,46.7 A10.6,10.8 0 1 0 446.41,46.7 Z"/><text x="319.6" y="101.3" font-family="Liberation Sans" font-size="19.4" fill="#1e1e1e" stroke="#1e1e1e" stroke-width="0.8" textLength="178.2" lengthAdjust="spacingAndGlyphs">First In, First Out</text><defs><radialGradient id="lg" cx="0.35" cy="0.25" r="0.85"><stop offset="0" stop-color="#7cc58d"/><stop offset="0.18" stop-color="#2da656"/><stop offset="0.7" stop-color="#169a45"/><stop offset="1" stop-color="#0f7f37"/></radialGradient><filter id="sh" x="-10%" y="-30%" width="120%" height="160%"><feGaussianBlur in="SourceAlpha" stdDeviation="1.2"/><feOffset dx="0.5" dy="1.2"/><feComponentTransfer><feFuncA type="linear" slope="0.35"/></feComponentTransfer><feMerge><feMergeNode/><feMergeNode in="SourceGraphic"/></feMerge></filter><filter id="ish"><feGaussianBlur stdDeviation="1"/></filter></defs><circle cx="616.1" cy="72.2" r="33.9" fill="url(#lg)"/><g fill="#0b5a26" opacity="0.5" filter="url(#ish)" transform="translate(1.5,1.5)"><rect x="600.2" y="56.2" width="9.4" height="32.8"/><path d="M611.2,56.2 H619 L626.5,74 V56.2 H632.4 V89 H625 L617,70 V89 H611.2 Z"/></g><g fill="#ffffff"><rect x="600.2" y="56.2" width="9.4" height="32.8"/><path d="M611.2,56.2 H619 L626.5,74 V56.2 H632.4 V89 H625 L617,70 V89 H611.2 Z"/></g><g fill="#1c1c1c"><rect x="656.8" y="56" width="8.2" height="32.8"/><path d="M670.5,56 H680 L691.5,76 V56 H699.2 V88.8 H690 L678.2,67 V88.8 H670.5 Z"/><path fill-rule="evenodd" d="M705,56.1 H718 Q729.5,56.1 729.5,66.6 Q729.5,77.2 718,77.2 H713.4 V88.6 H705 Z M713.4,61.8 V71.1 H717.5 Q722.3,71.1 722.3,66.4 Q722.3,61.8 717.5,61.8 Z"/><path fill-rule="evenodd" d="M738.2,56.1 H750.8 L760,88.6 H751 L748.9,80.5 H740 L738.2,88.6 H730 Z M744.3,62.2 L741,74.4 H748 Z"/></g></g></svg></body></html>
